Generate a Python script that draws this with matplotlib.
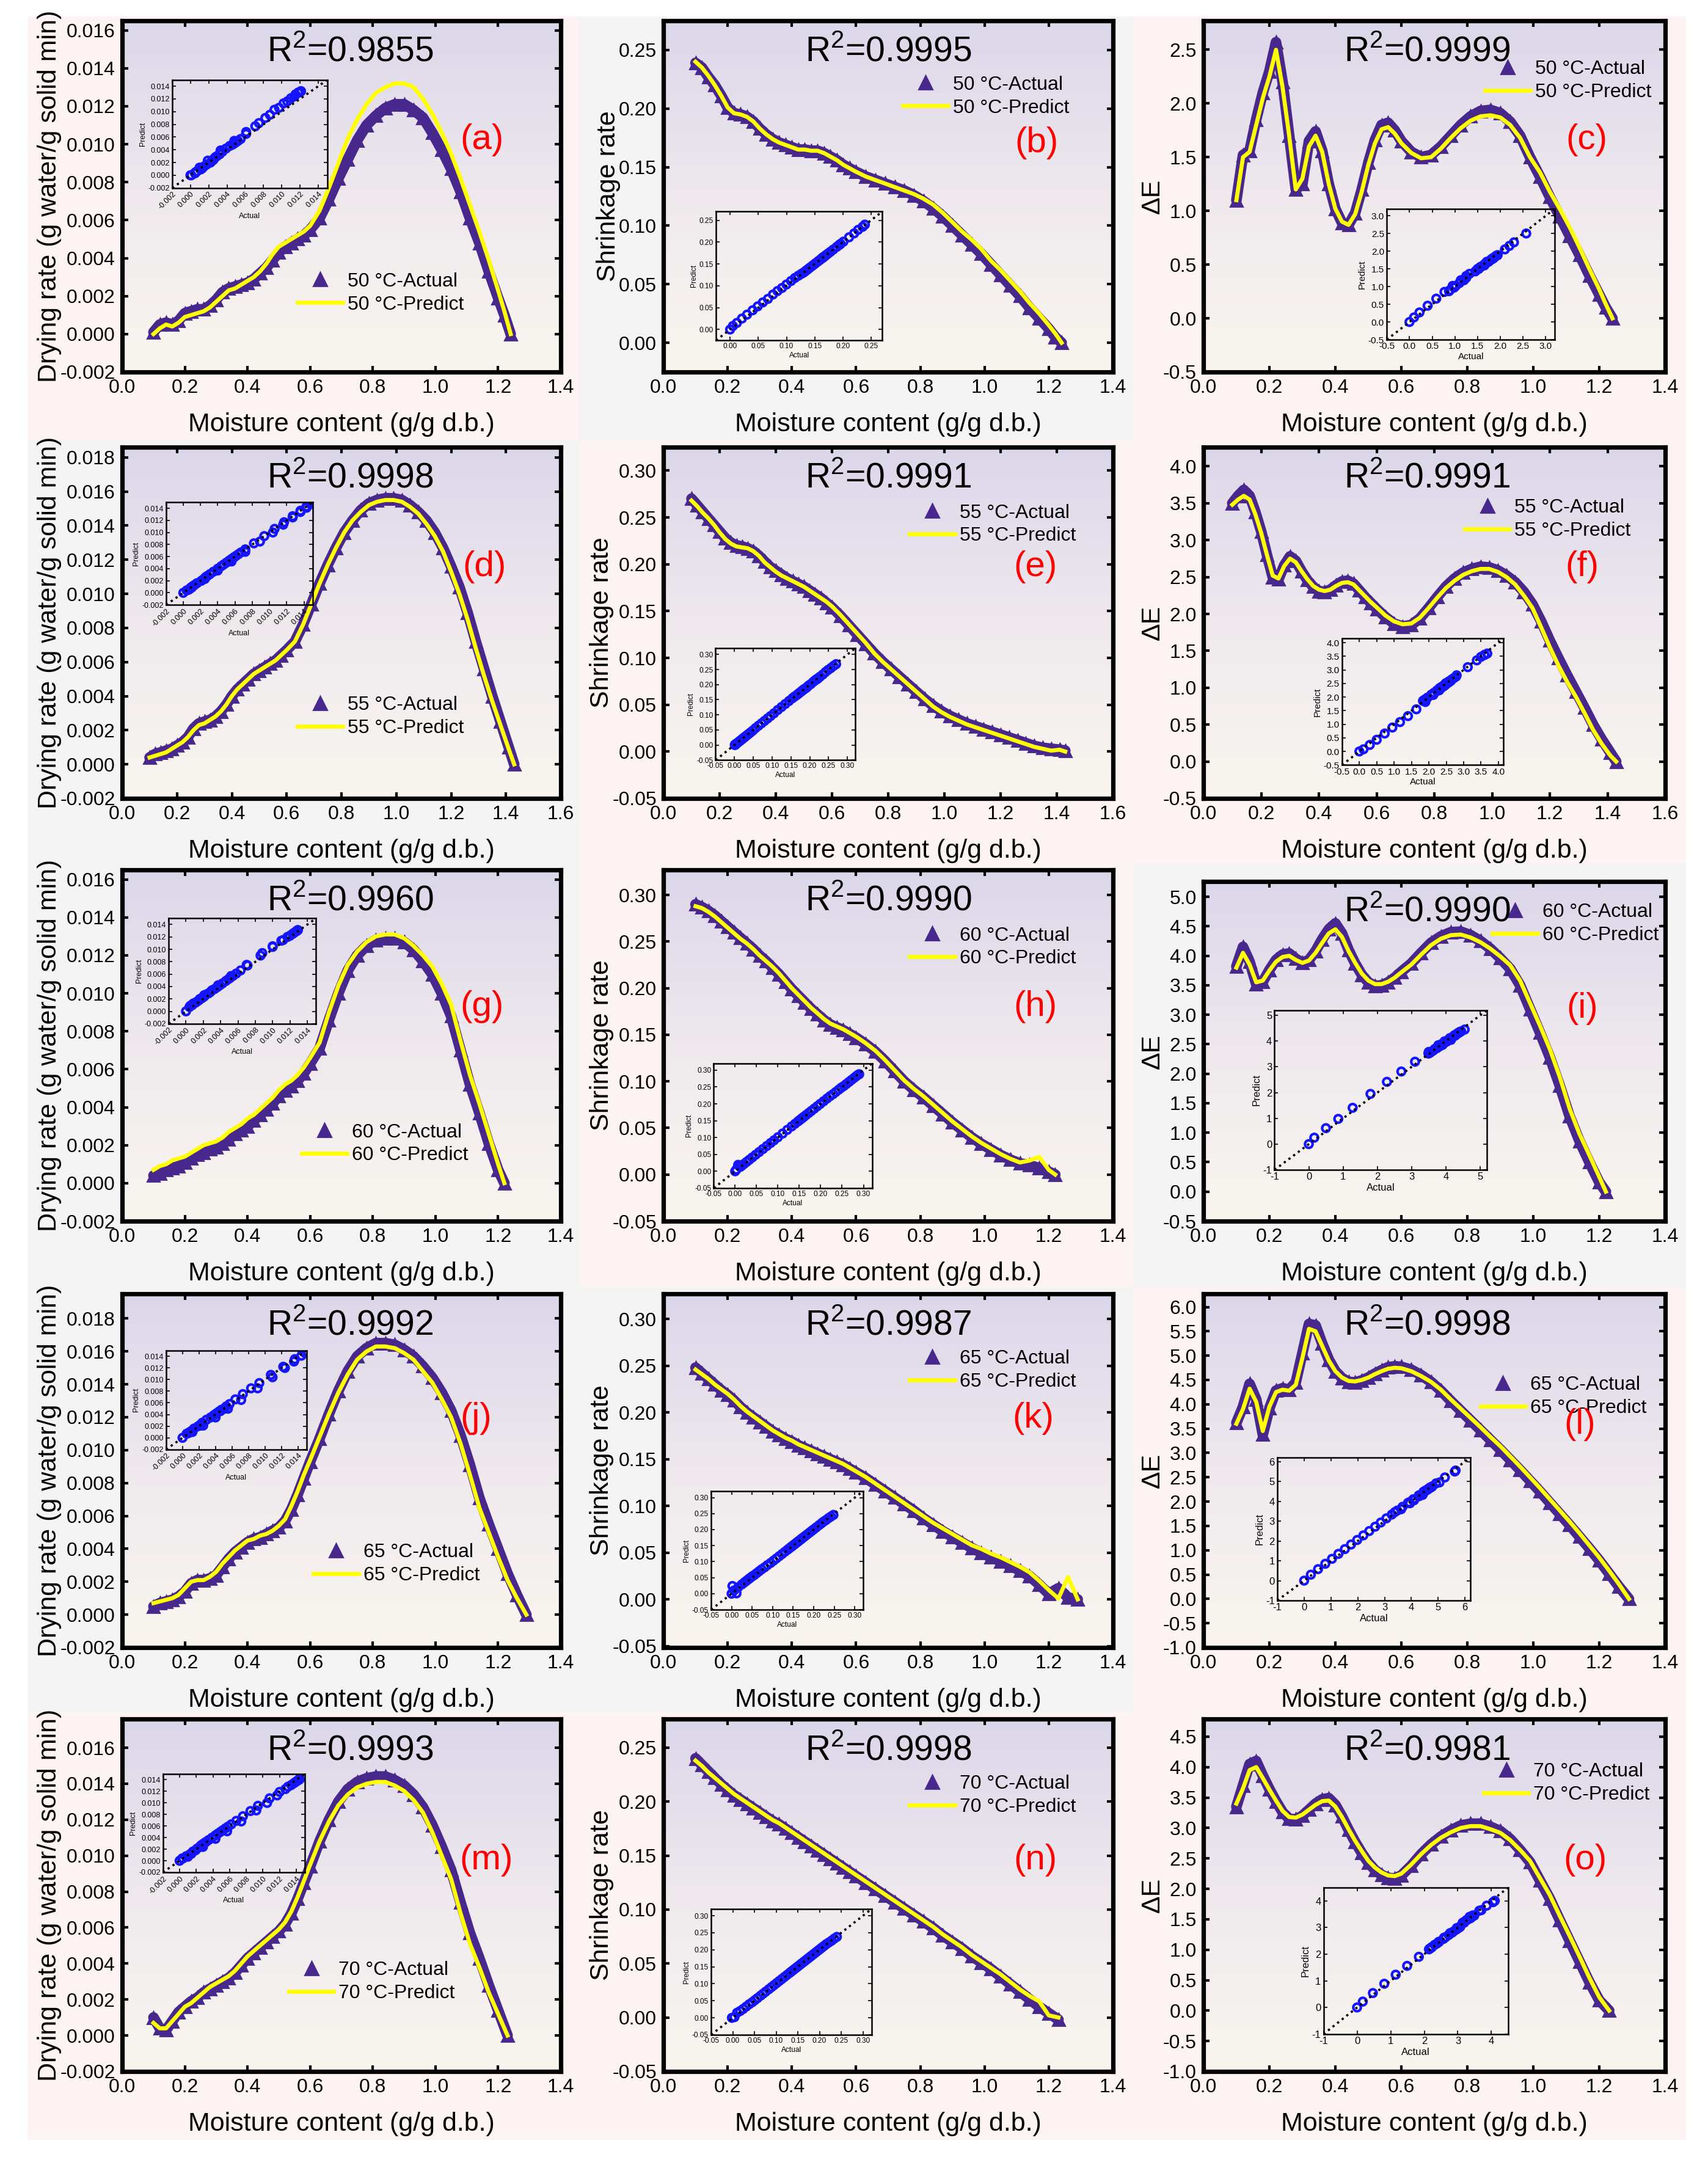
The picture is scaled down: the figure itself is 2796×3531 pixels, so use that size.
import numpy as np
import matplotlib.pyplot as plt
from matplotlib.patches import Rectangle
from matplotlib.ticker import MultipleLocator, FormatStrFormatter

plt.rcParams['font.family'] = ['Liberation Sans', 'DejaVu Sans']
plt.rcParams['mathtext.fontset'] = 'custom'
plt.rcParams['mathtext.rm'] = 'Liberation Sans'
plt.rcParams['axes.unicode_minus'] = False

# ---------------- data ----------------
# moisture content (g/g d.b.) for each drying temperature
mc_50 = [0.10, 0.12, 0.14, 0.16, 0.18, 0.20, 0.22, 0.24, 0.26, 0.28, 0.30, 0.32, 0.34, 0.36, 0.38, 0.40,
         0.42, 0.44, 0.46, 0.48, 0.50, 0.52, 0.54, 0.56, 0.58, 0.60,
         0.63, 0.66, 0.69, 0.72, 0.75, 0.78, 0.81, 0.84, 0.87, 0.90, 0.93, 0.96, 0.99, 1.02, 1.05, 1.08,
         1.11, 1.14, 1.17, 1.20, 1.22, 1.24]
mc_55 = [0.10, 0.12, 0.14, 0.16, 0.18, 0.20, 0.22, 0.24, 0.26, 0.28, 0.30, 0.32, 0.34, 0.36, 0.38, 0.40,
         0.42, 0.44, 0.46, 0.48, 0.50, 0.52, 0.54, 0.56, 0.58, 0.60,
         0.63, 0.66, 0.69, 0.72, 0.75, 0.78, 0.81, 0.84, 0.87, 0.90, 0.93, 0.96, 0.99, 1.02, 1.05, 1.08,
         1.11, 1.14, 1.17, 1.20, 1.23, 1.26, 1.29, 1.32, 1.35, 1.38, 1.41, 1.43]
mc_60 = [0.10, 0.12, 0.14, 0.16, 0.18, 0.20, 0.22, 0.24, 0.26, 0.28, 0.30, 0.32, 0.34, 0.36, 0.38, 0.40,
         0.42, 0.44, 0.46, 0.48, 0.50, 0.52, 0.54, 0.56, 0.58, 0.60,
         0.63, 0.66, 0.69, 0.72, 0.75, 0.78, 0.81, 0.84, 0.87, 0.90, 0.93, 0.96, 0.99, 1.02, 1.05, 1.08,
         1.11, 1.14, 1.17, 1.20, 1.22]
mc_65 = [0.10, 0.12, 0.14, 0.16, 0.18, 0.20, 0.22, 0.24, 0.26, 0.28, 0.30, 0.32, 0.34, 0.36, 0.38, 0.40,
         0.42, 0.44, 0.46, 0.48, 0.50, 0.52, 0.54, 0.56, 0.58, 0.60,
         0.63, 0.66, 0.69, 0.72, 0.75, 0.78, 0.81, 0.84, 0.87, 0.90, 0.93, 0.96, 0.99, 1.02, 1.05, 1.08,
         1.11, 1.14, 1.17, 1.20, 1.23, 1.26, 1.29]
mc_70 = [0.10, 0.12, 0.14, 0.16, 0.18, 0.20, 0.22, 0.24, 0.26, 0.28, 0.30, 0.32, 0.34, 0.36, 0.38, 0.40,
         0.42, 0.44, 0.46, 0.48, 0.50, 0.52, 0.54, 0.56, 0.58, 0.60,
         0.63, 0.66, 0.69, 0.72, 0.75, 0.78, 0.81, 0.84, 0.87, 0.90, 0.93, 0.96, 0.99, 1.02, 1.05, 1.08,
         1.11, 1.14, 1.17, 1.20, 1.23]

# drying rate (g water/g solid min)
dr_act_50 = [0.0001, 0.0005, 0.0006, 0.0005, 0.0007, 0.0011, 0.0012, 0.0013, 0.0013, 0.0015, 0.0018, 0.0022,
             0.0024, 0.0025, 0.0026, 0.0027, 0.0029, 0.0032, 0.0035, 0.0039, 0.0043, 0.0046, 0.0048, 0.0050,
             0.0052, 0.0055,
             0.0061, 0.0071, 0.0082, 0.0092, 0.0102, 0.0110, 0.0115, 0.0119, 0.0121, 0.0121, 0.0118, 0.0114,
             0.0106, 0.0097, 0.0087, 0.0075, 0.0061, 0.0048, 0.0033, 0.0019, 0.0010, 0.0000]
dr_pre_50 = [0.0000, 0.0003, 0.0005, 0.0004, 0.0006, 0.0009, 0.0010, 0.0011, 0.0012, 0.0014, 0.0017, 0.0020,
             0.0023, 0.0024, 0.0026, 0.0028, 0.0030, 0.0033, 0.0037, 0.0042, 0.0046, 0.0048, 0.0050, 0.0052,
             0.0054, 0.0057,
             0.0065, 0.0077, 0.0090, 0.0103, 0.0113, 0.0121, 0.0127, 0.0130, 0.0132, 0.0132, 0.0130, 0.0124,
             0.0116, 0.0106, 0.0095, 0.0082, 0.0068, 0.0054, 0.0039, 0.0023, 0.0012, 0.0000]
dr_act_55 = [0.0004, 0.0006, 0.0007, 0.0008, 0.0009, 0.0011, 0.0013, 0.0016, 0.0021, 0.0024, 0.0025, 0.0026,
             0.0028, 0.0031, 0.0035, 0.0040, 0.0044, 0.0047, 0.0050, 0.0053, 0.0055, 0.0057, 0.0059, 0.0061,
             0.0064, 0.0067,
             0.0072, 0.0082, 0.0094, 0.0106, 0.0117, 0.0127, 0.0136, 0.0143, 0.0149, 0.0153, 0.0155, 0.0156,
             0.0156, 0.0155, 0.0152, 0.0148, 0.0143, 0.0136, 0.0127, 0.0116, 0.0104, 0.0089, 0.0072, 0.0056,
             0.0040, 0.0025, 0.0010, 0.0000]
dr_pre_55 = [0.0004, 0.0005, 0.0006, 0.0007, 0.0009, 0.0011, 0.0013, 0.0016, 0.0020, 0.0023, 0.0024, 0.0026,
             0.0028, 0.0031, 0.0035, 0.0040, 0.0044, 0.0047, 0.0050, 0.0053, 0.0055, 0.0057, 0.0059, 0.0061,
             0.0064, 0.0067,
             0.0072, 0.0082, 0.0094, 0.0106, 0.0117, 0.0127, 0.0136, 0.0143, 0.0148, 0.0152, 0.0154, 0.0155,
             0.0155, 0.0154, 0.0151, 0.0147, 0.0141, 0.0134, 0.0125, 0.0113, 0.0100, 0.0085, 0.0068, 0.0052,
             0.0037, 0.0023, 0.0009, 0.0000]
dr_act_60 = [0.0004, 0.0005, 0.0007, 0.0008, 0.0009, 0.0011, 0.0013, 0.0015, 0.0016, 0.0018, 0.0019, 0.0021,
             0.0023, 0.0026, 0.0028, 0.0030, 0.0033, 0.0036, 0.0039, 0.0042, 0.0046, 0.0049, 0.0051, 0.0054,
             0.0058, 0.0063,
             0.0071, 0.0086, 0.0100, 0.0112, 0.0120, 0.0125, 0.0128, 0.0129, 0.0129, 0.0127, 0.0123, 0.0117,
             0.0110, 0.0100, 0.0088, 0.0070, 0.0052, 0.0037, 0.0021, 0.0007, 0.0000]
dr_pre_60 = [0.0007, 0.0009, 0.0010, 0.0012, 0.0013, 0.0014, 0.0016, 0.0018, 0.0020, 0.0021, 0.0022, 0.0024,
             0.0027, 0.0029, 0.0031, 0.0034, 0.0036, 0.0039, 0.0042, 0.0045, 0.0049, 0.0052, 0.0054, 0.0057,
             0.0061, 0.0066,
             0.0074, 0.0090, 0.0104, 0.0115, 0.0122, 0.0127, 0.0130, 0.0131, 0.0131, 0.0129, 0.0125, 0.0120,
             0.0114, 0.0105, 0.0094, 0.0075, 0.0057, 0.0042, 0.0026, 0.0010, 0.0000]
dr_act_65 = [0.0005, 0.0007, 0.0008, 0.0009, 0.0011, 0.0014, 0.0019, 0.0021, 0.0021, 0.0022, 0.0024, 0.0029,
             0.0034, 0.0038, 0.0041, 0.0044, 0.0046, 0.0047, 0.0049, 0.0051, 0.0053, 0.0057, 0.0064, 0.0073,
             0.0083, 0.0093,
             0.0107, 0.0122, 0.0136, 0.0148, 0.0157, 0.0162, 0.0165, 0.0165, 0.0164, 0.0161, 0.0157, 0.0151,
             0.0144, 0.0135, 0.0124, 0.0109, 0.0091, 0.0071, 0.0055, 0.0040, 0.0025, 0.0012, 0.0000]
dr_pre_65 = [0.0007, 0.0008, 0.0009, 0.0010, 0.0012, 0.0016, 0.0020, 0.0021, 0.0021, 0.0023, 0.0026, 0.0031,
             0.0035, 0.0039, 0.0042, 0.0045, 0.0046, 0.0048, 0.0049, 0.0051, 0.0054, 0.0058, 0.0066, 0.0075,
             0.0085, 0.0094,
             0.0108, 0.0122, 0.0135, 0.0146, 0.0155, 0.0160, 0.0163, 0.0163, 0.0162, 0.0159, 0.0155, 0.0148,
             0.0141, 0.0131, 0.0120, 0.0104, 0.0085, 0.0065, 0.0050, 0.0035, 0.0021, 0.0010, 0.0000]
dr_act_70 = [0.0010, 0.0004, 0.0003, 0.0008, 0.0013, 0.0016, 0.0019, 0.0021, 0.0024, 0.0026, 0.0028, 0.0030,
             0.0032, 0.0035, 0.0039, 0.0043, 0.0046, 0.0049, 0.0052, 0.0055, 0.0058, 0.0062, 0.0068, 0.0076,
             0.0085, 0.0094,
             0.0108, 0.0120, 0.0130, 0.0137, 0.0141, 0.0143, 0.0144, 0.0144, 0.0142, 0.0139, 0.0134, 0.0127,
             0.0117, 0.0105, 0.0092, 0.0074, 0.0057, 0.0043, 0.0028, 0.0014, 0.0000]
dr_pre_70 = [0.0007, 0.0004, 0.0004, 0.0008, 0.0012, 0.0016, 0.0018, 0.0021, 0.0024, 0.0027, 0.0029, 0.0031,
             0.0033, 0.0036, 0.0040, 0.0044, 0.0047, 0.0050, 0.0053, 0.0056, 0.0059, 0.0063, 0.0069, 0.0077,
             0.0086, 0.0095,
             0.0108, 0.0119, 0.0128, 0.0134, 0.0138, 0.0140, 0.0141, 0.0141, 0.0139, 0.0136, 0.0131, 0.0124,
             0.0113, 0.0100, 0.0087, 0.0068, 0.0051, 0.0038, 0.0024, 0.0012, 0.0000]

# shrinkage rate
sr_act_50 = [0.239, 0.235, 0.227, 0.220, 0.211, 0.201, 0.196, 0.195, 0.193, 0.189, 0.183, 0.178, 0.174, 0.171,
             0.169, 0.167, 0.165, 0.165, 0.164, 0.164, 0.162, 0.159, 0.156, 0.152, 0.149, 0.146,
             0.142, 0.139, 0.136, 0.133, 0.130, 0.126, 0.121, 0.115, 0.108, 0.100, 0.092, 0.084, 0.076, 0.067,
             0.058, 0.049, 0.040, 0.030, 0.021, 0.012, 0.005, 0.000]
sr_pre_50 = [0.240, 0.235, 0.228, 0.220, 0.211, 0.201, 0.196, 0.195, 0.193, 0.189, 0.183, 0.178, 0.174, 0.171,
             0.169, 0.167, 0.165, 0.165, 0.164, 0.164, 0.162, 0.159, 0.156, 0.152, 0.149, 0.146,
             0.142, 0.139, 0.136, 0.133, 0.130, 0.127, 0.123, 0.118, 0.111, 0.103, 0.095, 0.088, 0.080, 0.070,
             0.062, 0.053, 0.044, 0.034, 0.025, 0.015, 0.008, 0.000]
sr_act_55 = [0.270, 0.263, 0.256, 0.249, 0.242, 0.235, 0.228, 0.223, 0.220, 0.219, 0.217, 0.214, 0.209, 0.203,
             0.197, 0.193, 0.189, 0.185, 0.182, 0.179, 0.176, 0.172, 0.168, 0.164, 0.159, 0.154,
             0.145, 0.135, 0.125, 0.115, 0.105, 0.096, 0.088, 0.080, 0.072, 0.064, 0.056, 0.049, 0.043, 0.038,
             0.034, 0.030, 0.027, 0.024, 0.021, 0.018, 0.015, 0.012, 0.009, 0.006, 0.004, 0.003, 0.002, 0.001]
sr_pre_55 = [0.268, 0.262, 0.255, 0.249, 0.242, 0.234, 0.227, 0.222, 0.219, 0.218, 0.217, 0.214, 0.209, 0.202,
             0.197, 0.192, 0.188, 0.185, 0.182, 0.179, 0.176, 0.172, 0.168, 0.164, 0.160, 0.155,
             0.146, 0.136, 0.126, 0.116, 0.105, 0.096, 0.088, 0.080, 0.072, 0.064, 0.056, 0.048, 0.042, 0.037,
             0.033, 0.029, 0.026, 0.023, 0.020, 0.017, 0.014, 0.011, 0.008, 0.005, 0.003, 0.001, 0.002, 0.000]
sr_act_60 = [0.290, 0.287, 0.283, 0.278, 0.272, 0.266, 0.260, 0.254, 0.248, 0.242, 0.235, 0.229, 0.222, 0.215,
             0.207, 0.199, 0.192, 0.185, 0.178, 0.172, 0.166, 0.161, 0.158, 0.155, 0.151, 0.147,
             0.140, 0.132, 0.122, 0.111, 0.100, 0.091, 0.083, 0.074, 0.065, 0.056, 0.048, 0.040, 0.033, 0.027,
             0.021, 0.016, 0.012, 0.010, 0.007, 0.003, 0.000]
sr_pre_60 = [0.288, 0.286, 0.282, 0.277, 0.271, 0.265, 0.259, 0.253, 0.248, 0.242, 0.235, 0.229, 0.223, 0.216,
             0.208, 0.200, 0.193, 0.186, 0.179, 0.173, 0.167, 0.162, 0.159, 0.156, 0.152, 0.148,
             0.141, 0.133, 0.123, 0.112, 0.101, 0.092, 0.084, 0.075, 0.066, 0.057, 0.049, 0.041, 0.034, 0.028,
             0.022, 0.017, 0.013, 0.015, 0.019, 0.005, 0.000]
sr_act_65 = [0.248, 0.242, 0.236, 0.230, 0.224, 0.219, 0.213, 0.206, 0.200, 0.195, 0.190, 0.185, 0.180, 0.176,
             0.172, 0.169, 0.165, 0.162, 0.159, 0.156, 0.153, 0.150, 0.147, 0.144, 0.140, 0.136,
             0.130, 0.123, 0.116, 0.109, 0.102, 0.095, 0.087, 0.080, 0.073, 0.067, 0.061, 0.055, 0.050, 0.045,
             0.041, 0.036, 0.031, 0.025, 0.016, 0.006, 0.012, 0.002, 0.000]
sr_pre_65 = [0.246, 0.241, 0.236, 0.230, 0.225, 0.220, 0.214, 0.207, 0.201, 0.196, 0.191, 0.186, 0.181, 0.177,
             0.173, 0.170, 0.166, 0.163, 0.160, 0.157, 0.154, 0.151, 0.148, 0.145, 0.141, 0.137,
             0.131, 0.124, 0.117, 0.110, 0.103, 0.096, 0.089, 0.082, 0.076, 0.070, 0.064, 0.058, 0.054, 0.049,
             0.045, 0.040, 0.035, 0.029, 0.020, 0.010, 0.001, 0.024, 0.000]
sr_act_70 = [0.240, 0.234, 0.228, 0.222, 0.216, 0.211, 0.206, 0.202, 0.198, 0.194, 0.190, 0.186, 0.182, 0.179,
             0.175, 0.171, 0.167, 0.163, 0.159, 0.155, 0.151, 0.147, 0.143, 0.139, 0.135, 0.131,
             0.125, 0.119, 0.113, 0.107, 0.101, 0.095, 0.089, 0.083, 0.076, 0.070, 0.064, 0.057, 0.051, 0.045,
             0.038, 0.031, 0.024, 0.017, 0.010, 0.004, -0.002]
sr_pre_70 = [0.238, 0.233, 0.227, 0.222, 0.217, 0.212, 0.207, 0.203, 0.199, 0.195, 0.191, 0.187, 0.183, 0.180,
             0.176, 0.172, 0.168, 0.164, 0.160, 0.156, 0.152, 0.148, 0.144, 0.140, 0.136, 0.132,
             0.126, 0.120, 0.114, 0.108, 0.102, 0.096, 0.090, 0.084, 0.077, 0.071, 0.065, 0.058, 0.052, 0.046,
             0.040, 0.033, 0.026, 0.020, 0.015, 0.002, 0.000]

# colour difference (delta E)
de_act_50 = [1.10, 1.52, 1.56, 1.85, 2.10, 2.30, 2.57, 2.20, 1.70, 1.20, 1.25, 1.65, 1.74, 1.56, 1.25, 1.02,
             0.89, 0.87, 0.98, 1.20, 1.45, 1.66, 1.80, 1.82, 1.75, 1.65,
             1.55, 1.50, 1.52, 1.60, 1.70, 1.80, 1.88, 1.93, 1.94, 1.91, 1.83, 1.70, 1.50, 1.32, 1.13, 0.95,
             0.77, 0.59, 0.40, 0.22, 0.10, 0.00]
de_pre_50 = [1.10, 1.50, 1.55, 1.80, 2.05, 2.25, 2.50, 2.15, 1.70, 1.20, 1.30, 1.60, 1.70, 1.55, 1.25, 1.02,
             0.90, 0.87, 0.97, 1.18, 1.43, 1.63, 1.76, 1.78, 1.72, 1.63,
             1.54, 1.49, 1.50, 1.58, 1.68, 1.77, 1.84, 1.88, 1.89, 1.87, 1.80, 1.68, 1.50, 1.36, 1.18, 1.02,
             0.85, 0.66, 0.46, 0.27, 0.13, 0.00]
de_act_55 = [3.50, 3.60, 3.68, 3.60, 3.38, 3.12, 2.80, 2.50, 2.47, 2.66, 2.78, 2.72, 2.58, 2.46, 2.37, 2.31,
             2.30, 2.33, 2.39, 2.44, 2.45, 2.41, 2.32, 2.23, 2.15, 2.07,
             1.96, 1.87, 1.83, 1.85, 1.94, 2.08, 2.23, 2.37, 2.48, 2.56, 2.61, 2.64, 2.63, 2.59, 2.52, 2.43,
             2.30, 2.13, 1.90, 1.64, 1.40, 1.17, 0.95, 0.73, 0.50, 0.30, 0.12, 0.00]
de_pre_55 = [3.48, 3.55, 3.60, 3.55, 3.35, 3.10, 2.80, 2.52, 2.48, 2.65, 2.75, 2.70, 2.58, 2.47, 2.38, 2.33,
             2.31, 2.33, 2.38, 2.42, 2.43, 2.40, 2.32, 2.24, 2.16, 2.09,
             1.98, 1.90, 1.86, 1.87, 1.95, 2.08, 2.22, 2.35, 2.45, 2.53, 2.58, 2.61, 2.61, 2.57, 2.50, 2.40,
             2.25, 2.08, 1.82, 1.55, 1.30, 1.08, 0.88, 0.66, 0.43, 0.24, 0.08, 0.00]
de_act_60 = [3.82, 4.15, 3.90, 3.52, 3.56, 3.76, 3.93, 4.02, 4.04, 3.95, 3.88, 3.93, 4.08, 4.28, 4.45, 4.55,
             4.38, 4.10, 3.87, 3.68, 3.55, 3.49, 3.50, 3.55, 3.63, 3.73,
             3.87, 4.05, 4.22, 4.33, 4.40, 4.41, 4.35, 4.25, 4.12, 3.96, 3.78, 3.50, 3.10, 2.70, 2.28, 1.80,
             1.28, 0.86, 0.50, 0.16, 0.00]
de_pre_60 = [3.80, 4.05, 3.85, 3.55, 3.58, 3.75, 3.90, 3.98, 4.00, 3.93, 3.88, 3.92, 4.05, 4.22, 4.38, 4.45,
             4.32, 4.08, 3.88, 3.70, 3.58, 3.52, 3.52, 3.56, 3.63, 3.72,
             3.85, 4.02, 4.18, 4.29, 4.35, 4.36, 4.31, 4.23, 4.12, 3.99, 3.84, 3.58, 3.20, 2.82, 2.42, 1.95,
             1.41, 0.98, 0.62, 0.25, 0.00]
de_act_65 = [3.62, 3.95, 4.42, 4.10, 3.38, 3.92, 4.28, 4.33, 4.30, 4.45, 5.05, 5.65, 5.62, 5.25, 4.92, 4.68,
             4.54, 4.46, 4.45, 4.49, 4.55, 4.63, 4.70, 4.76, 4.78, 4.77,
             4.71, 4.60, 4.46, 4.28, 4.07, 3.87, 3.67, 3.47, 3.27, 3.07, 2.86, 2.65, 2.43, 2.21, 1.98, 1.75,
             1.52, 1.28, 1.04, 0.79, 0.52, 0.25, 0.00]
de_pre_65 = [3.60, 3.90, 4.32, 4.05, 3.45, 3.95, 4.25, 4.30, 4.28, 4.40, 4.95, 5.55, 5.50, 5.20, 4.90, 4.68,
             4.55, 4.48, 4.47, 4.50, 4.55, 4.62, 4.68, 4.73, 4.75, 4.74,
             4.68, 4.58, 4.46, 4.30, 4.10, 3.91, 3.72, 3.53, 3.33, 3.14, 2.93, 2.72, 2.50, 2.28, 2.05, 1.82,
             1.59, 1.35, 1.10, 0.85, 0.58, 0.30, 0.00]
de_act_70 = [3.35, 3.70, 4.05, 4.10, 3.86, 3.64, 3.44, 3.26, 3.15, 3.14, 3.20, 3.30, 3.40, 3.47, 3.49, 3.38,
             3.19, 2.97, 2.77, 2.59, 2.43, 2.31, 2.23, 2.18, 2.17, 2.22,
             2.38, 2.57, 2.73, 2.86, 2.96, 3.04, 3.07, 3.07, 3.02, 2.95, 2.82, 2.64, 2.44, 2.14, 1.84, 1.49,
             1.15, 0.81, 0.47, 0.17, 0.00]
de_pre_70 = [3.40, 3.65, 3.95, 4.00, 3.82, 3.63, 3.45, 3.28, 3.18, 3.17, 3.22, 3.30, 3.38, 3.44, 3.45, 3.35,
             3.18, 2.98, 2.79, 2.62, 2.46, 2.35, 2.27, 2.22, 2.21, 2.25,
             2.40, 2.57, 2.72, 2.84, 2.93, 3.00, 3.03, 3.03, 2.98, 2.92, 2.80, 2.64, 2.46, 2.18, 1.90, 1.56,
             1.23, 0.89, 0.54, 0.22, 0.00]

temps = [50, 55, 60, 65, 70]
r2_dr = ['0.9855', '0.9998', '0.9960', '0.9992', '0.9993']
r2_sr = ['0.9995', '0.9991', '0.9990', '0.9987', '0.9998']
r2_de = ['0.9999', '0.9991', '0.9990', '0.9998', '0.9981']
letters = 'abcdefghijklmno'

mc_all = [mc_50, mc_55, mc_60, mc_65, mc_70]
series = [
    [(dr_act_50, dr_pre_50), (sr_act_50, sr_pre_50), (de_act_50, de_pre_50)],
    [(dr_act_55, dr_pre_55), (sr_act_55, sr_pre_55), (de_act_55, de_pre_55)],
    [(dr_act_60, dr_pre_60), (sr_act_60, sr_pre_60), (de_act_60, de_pre_60)],
    [(dr_act_65, dr_pre_65), (sr_act_65, sr_pre_65), (de_act_65, de_pre_65)],
    [(dr_act_70, dr_pre_70), (sr_act_70, sr_pre_70), (de_act_70, de_pre_70)],
]
r2_all = list(zip(r2_dr, r2_sr, r2_de))

# ---------------- layout (pixels of the 2796 x 3531 canvas) ----------------
W, H = 2796, 3531
fig = plt.figure(figsize=(W / 200, H / 200), dpi=200)

col_x = [(200, 918), (1086, 1822), (1970, 2726)]
row_y = [(34, 609), (732, 1307), (1424, 1999), (2118, 2697), (2814, 3391)]

cell_x = [45, 948, 1854, 2760]
cell_y = [27, 721, 1413, 2108, 2803, 3503]
pink, grey = '#fdf3f3', '#f4f4f4'
cell_col = [[pink, grey, pink], [grey, pink, pink], [grey, pink, grey], [grey, grey, pink], [pink, pink, pink]]
for r in range(5):
    for c in range(3):
        fig.add_artist(Rectangle((cell_x[c] / W, 1 - cell_y[r + 1] / H),
                                 (cell_x[c + 1] - cell_x[c]) / W, (cell_y[r + 1] - cell_y[r]) / H,
                                 transform=fig.transFigure, facecolor=cell_col[r][c], edgecolor='none',
                                 zorder=-5))

ylims = [[(-0.002, 0.0165), (-0.025, 0.275), (-0.5, 2.77)],
         [(-0.002, 0.0186), (-0.05, 0.325), (-0.5, 4.26)],
         [(-0.002, 0.0165), (-0.05, 0.327), (-0.5, 5.26)],
         [(-0.002, 0.0195), (-0.0515, 0.327), (-1.0, 6.27)],
         [(-0.002, 0.0176), (-0.05, 0.2765), (-1.0, 4.79)]]
xmax = [1.4, 1.6, 1.4, 1.4, 1.4]

inset_rect = [[[0.114, 0.524, 0.354, 0.308], [0.117, 0.09, 0.37, 0.367], [0.397, 0.092, 0.364, 0.373]],
              [[0.10, 0.551, 0.334, 0.292], [0.116, 0.109, 0.31, 0.318], [0.30, 0.095, 0.35, 0.36]],
              [[0.106, 0.562, 0.336, 0.30], [0.112, 0.094, 0.352, 0.355], [0.154, 0.151, 0.46, 0.47]],
              [[0.10, 0.56, 0.32, 0.28], [0.106, 0.107, 0.338, 0.335], [0.16, 0.133, 0.418, 0.404]],
              [[0.093, 0.565, 0.323, 0.279], [0.106, 0.104, 0.357, 0.357], [0.26, 0.106, 0.40, 0.416]]]
inset_lim = [[(-0.002, 0.015), (-0.025, 0.27), (-0.5, 3.2)],
             [(-0.002, 0.015), (-0.05, 0.32), (-0.5, 4.15)],
             [(-0.002, 0.015), (-0.05, 0.32), (-1.0, 5.2)],
             [(-0.002, 0.015), (-0.05, 0.32), (-1.0, 6.2)],
             [(-0.002, 0.015), (-0.05, 0.32), (-1.0, 4.5)]]
inset_step = [[0.002, 0.05, 0.5], [0.002, 0.05, 0.5], [0.002, 0.05, 1], [0.002, 0.05, 1], [0.002, 0.05, 1]]

legend_at = [[(0.40, 0.225), (0.533, 0.785), (0.61, 0.83)],
             [(0.40, 0.233), (0.548, 0.78), (0.566, 0.795)],
             [(0.41, 0.22), (0.548, 0.78), (0.626, 0.876)],
             [(0.436, 0.237), (0.548, 0.784), (0.60, 0.71)],
             [(0.38, 0.255), (0.548, 0.783), (0.607, 0.818)]]
letter_at = [[(0.82, 0.66), (0.83, 0.653), (0.83, 0.66)],
             [(0.826, 0.66), (0.827, 0.66), (0.82, 0.66)],
             [(0.82, 0.61), (0.827, 0.61), (0.82, 0.626)],
             [(0.806, 0.647), (0.823, 0.647), (0.815, 0.63)],
             [(0.83, 0.60), (0.827, 0.60), (0.827, 0.60)]]
r2_x = [0.52, 0.5, 0.485]

ylabels = ['Drying rate (g water/g solid min)', 'Shrinkage rate', '\u0394E']
ystep = [0.002, 0.05, 0.5]
yfmt = ['%.3f', '%.2f', '%.1f']

purple = '#48288c'
yellow = '#ffff00'

# vertical gradient used as the plot-area background
tt = np.linspace(0, 1, 200)[:, None]
top_c = np.array([0.862, 0.840, 0.918])
mid_c = np.array([0.937, 0.913, 0.933])
bot_c = np.array([0.980, 0.965, 0.935])
grad = np.where(tt < 0.5, top_c + (mid_c - top_c) * (tt / 0.5), mid_c + (bot_c - mid_c) * ((tt - 0.5) / 0.5))
grad = grad[:, None, :] * np.ones((1, 2, 1))

for r in range(5):
    for c in range(3):
        k = r * 3 + c
        x0, x1 = col_x[c]
        y0, y1 = row_y[r]
        if k == 8:
            y0 = 1443
        ax = fig.add_axes([x0 / W, 1 - y1 / H, (x1 - x0) / W, (y1 - y0) / H])
        ax.imshow(grad, extent=(0, 1, 0, 1), transform=ax.transAxes, aspect='auto', zorder=0,
                  interpolation='bilinear')

        x = mc_all[r]
        act, pre = series[r][c]
        t = temps[r]
        # dense run of triangles in the original reads as a solid band
        ax.plot(x, act, color=purple, lw=6.3, solid_joinstyle='round', solid_capstyle='round', zorder=3)
        ax.plot(x, act, ls='none', marker='^', ms=7.5, color=purple, mec=purple,
                label=f'{t} \u00b0C-Actual', zorder=3)
        ax.plot(x, pre, color=yellow, lw=2.4, label=f'{t} \u00b0C-Predict', zorder=4)

        ax.set_xlim(0, xmax[r])
        ax.set_ylim(*ylims[r][c])
        ax.xaxis.set_major_locator(MultipleLocator(0.2))
        ax.xaxis.set_major_formatter(FormatStrFormatter('%.1f'))
        ax.yaxis.set_major_locator(MultipleLocator(ystep[c]))
        ax.yaxis.set_major_formatter(FormatStrFormatter(yfmt[c]))
        ax.tick_params(direction='in', top=True, right=True, length=3.5, width=1.5, labelsize=11.5, pad=4)
        for sp in ax.spines.values():
            sp.set_linewidth(2.6)
        ax.set_xlabel('Moisture content (g/g d.b.)', fontsize=15.5, labelpad=9)
        ax.set_ylabel(ylabels[c], fontsize=15.5, labelpad=-1)

        ax.text(r2_x[c], 0.91, 'R$^{2}$=' + r2_all[r][c], transform=ax.transAxes,
                ha='center', va='center', fontsize=20.5, zorder=6)
        lx, ly = letter_at[r][c]
        ax.text(lx, ly, '(' + letters[k] + ')', transform=ax.transAxes, color='red',
                ha='center', va='center', fontsize=21, zorder=6)
        ax.legend(loc='center left', bbox_to_anchor=legend_at[r][c], frameon=False, fontsize=11.5,
                  handlelength=2.3, handletextpad=0.25, labelspacing=0.25, borderpad=0,
                  borderaxespad=0, numpoints=1, markerscale=1.1)

        # actual vs predicted inset
        ins = ax.inset_axes(inset_rect[r][c])
        ins.set_facecolor('none')
        lo, hi = inset_lim[r][c]
        ins.plot([lo, hi], [lo, hi], color='k', ls=':', lw=1.3, zorder=3)
        ins.scatter(act, pre, s=20, facecolors='none', edgecolors='#1414ff', linewidths=1.5, zorder=2)
        ins.set_xlim(lo, hi)
        ins.set_ylim(lo, hi)
        st = inset_step[r][c]
        ins.xaxis.set_major_locator(MultipleLocator(st))
        ins.yaxis.set_major_locator(MultipleLocator(st))
        if c == 0:
            fmt, fs = '%.3f', 4.5
        elif c == 1:
            fmt, fs = '%.2f', 4.3
        elif st == 0.5:
            fmt, fs = '%.1f', 5.5
        else:
            fmt, fs = '%d', 6
        ins.xaxis.set_major_formatter(FormatStrFormatter(fmt))
        ins.yaxis.set_major_formatter(FormatStrFormatter(fmt))
        ins.tick_params(direction='in', top=True, right=True, length=2, width=0.6, labelsize=fs, pad=1.5)
        if c == 0:
            for lab in ins.get_xticklabels():
                lab.set_rotation(45)
                lab.set_ha('right')
                lab.set_rotation_mode('anchor')
        for sp in ins.spines.values():
            sp.set_linewidth(0.9)
        ins.set_xlabel('Actual', fontsize=fs, labelpad=1)
        ins.set_ylabel('Predict', fontsize=fs, labelpad=1)

fig.savefig('out.png', dpi=200)
